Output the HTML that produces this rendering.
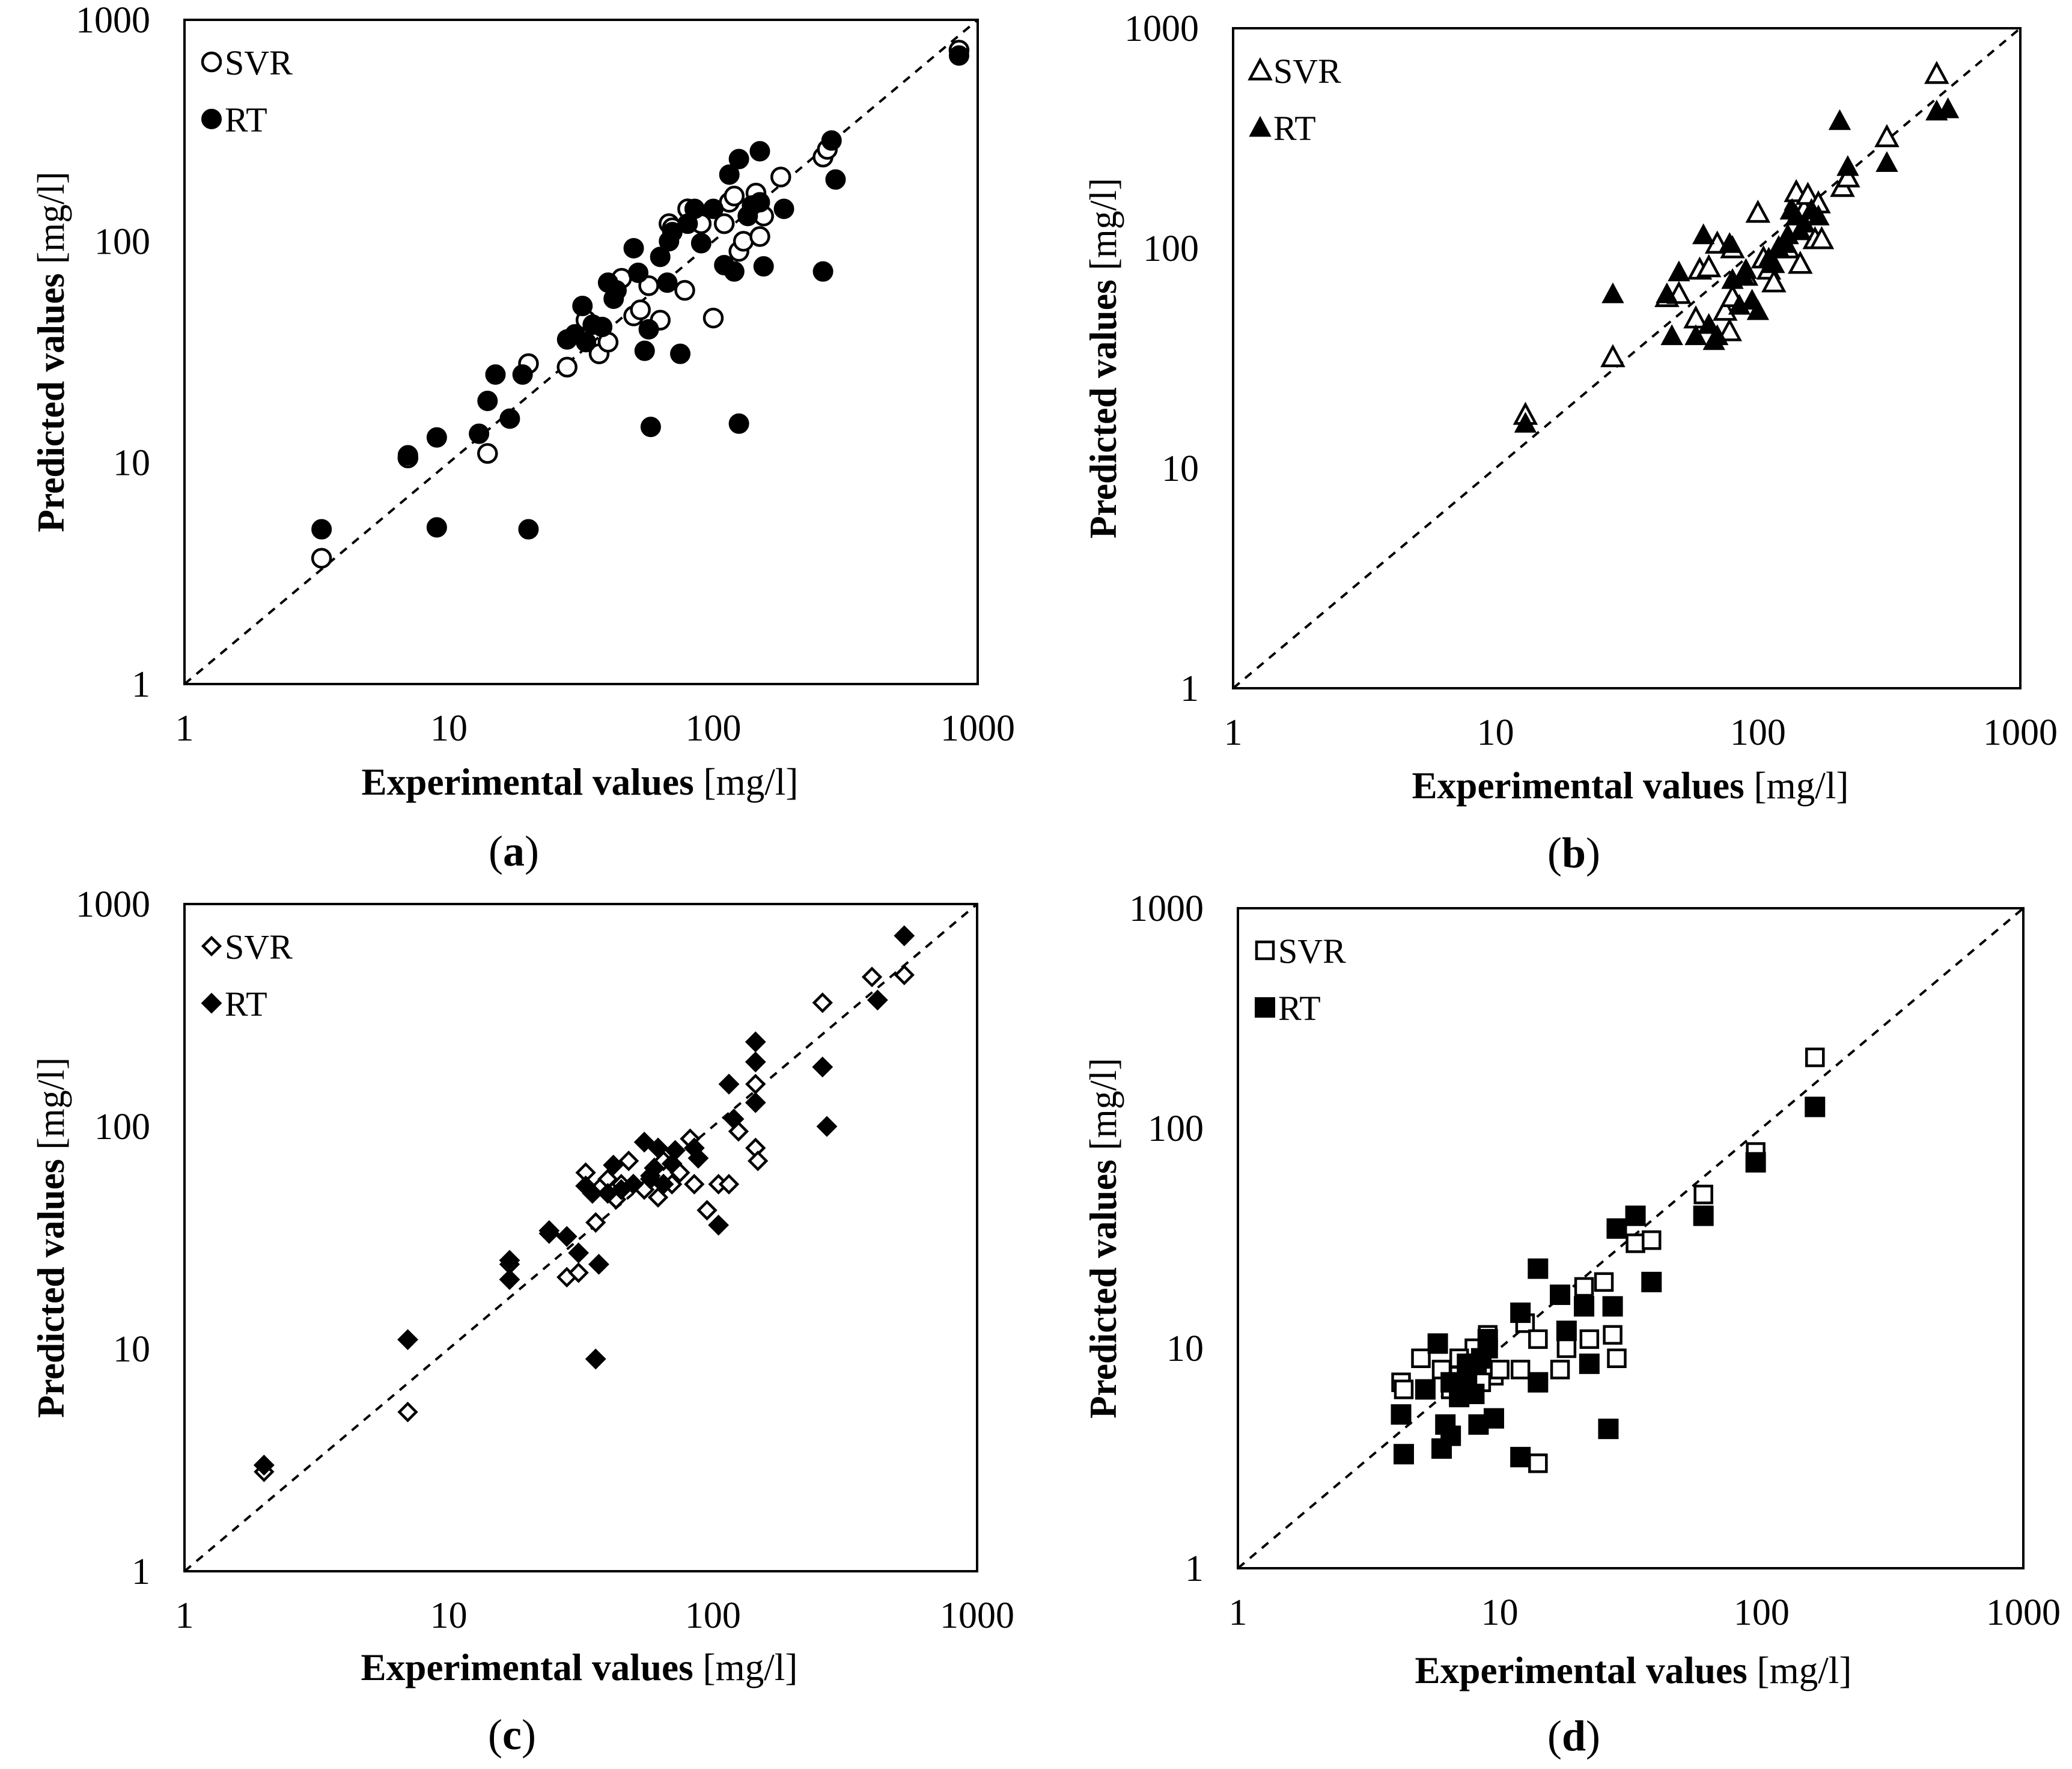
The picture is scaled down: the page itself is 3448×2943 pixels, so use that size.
<!DOCTYPE html>
<html><head><meta charset="utf-8"><style>
html,body{margin:0;padding:0;background:#fff}
svg{display:block}
text{font-family:"Liberation Serif",serif;fill:#000}
</style></head><body>
<svg id="fig" width="3448" height="2943" viewBox="0 0 3448 2943" xmlns="http://www.w3.org/2000/svg"></svg>
<script>
// Panel (a) – circles
const aSvrX=[3.3,7,14,20,28,33,37,40,43,45,50,53,57,63,68,78,85,90,100,110,115,120,125,130,145,150,155,180,260,270,850,70,80];
const aSvrY=[3.7,10.5,11,28,27,44,31,35,60,68,46,49,63,44,120,60,130,120,45,120,150,160,90,100,165,105,130,195,240,260,730,115,140];
const aRtX=[3.3,7,9,9,13,14,15,17,19,20,28,30,32,33,35,38,40,42,43,50,52,55,57,58,63,67,68,70,75,80,85,90,100,110,115,120,125,125,135,140,150,150,155,185,260,280,290,850];
const aRtY=[5,10.8,5.1,13,13.5,19,25,15.8,25,5,36,38,51,35,42,41,65,55,60,93,72,32,40,14.5,85,65,100,110,31,120,140,98,140,78,200,73,235,15,130,145,255,150,77,140,73,285,190,690];
// Panel (b) – triangles
const bSvrX=[13,28,45,50,58,60,65,70,75,78,80,80,100,105,110,120,130,135,140,140,145,150,155,165,170,175,210,220,310,480,115,90];
const bSvrY=[17.5,32,60,62,48,80,82,105,52,42,60,100,145,90,80,100,100,150,165,180,85,150,175,110,160,110,190,210,320,620,70,75];
const bRtX=[13,28,45,47,50,58,62,65,68,70,78,80,85,88,90,95,100,110,115,120,125,130,135,140,145,150,160,170,205,220,310,480,530];
const bRtY=[16,62,62,40,78,40,115,45,38,40,105,72,55,75,80,58,52,90,85,100,105,115,150,140,120,130,150,140,380,235,245,420,430];
// Panel (c) – diamonds
const cSvrX=[2,7,17,24,28,31,33,36,38,40,43,45,48,55,58,62,65,70,75,82,85,95,105,115,125,145,145,148,260,400,530];
const cSvrY=[2.8,5.2,24,33,21,22,62,37,54,58,47,55,70,52,60,48,70,55,62,88,55,42,55,55,95,155,80,70,360,470,480];
const cRtX=[2,7,17,17,24,28,31,33,35,36,37,40,42,45,50,55,58,60,62,65,70,72,85,88,105,115,120,145,145,145,260,270,420,530];
const cRtY=[3,11,25,20.5,34,32,27,54,50,9,24,50,67,52,55,85,58,65,80,55,68,78,80,72,36,155,108,240,195,128,185,100,370,720];
// Panel (d) – squares
const dSvrX=[4.2,4.3,5,6,6.5,7,7.5,8,8.5,9,9.5,10,12,12.5,14,14,17,18,21,22,25,27,28,33,38,60,95,160,8.5,7];
const dSvrY=[7,6.5,9,8,6.5,7.5,8,10,8.5,11.5,7.5,8,8,13,11,3,8,10,19,11,20,11.5,9,30,31,50,78,210,7,9];
const dRtX=[4.2,4.3,5.2,5.8,6,6.2,6.5,6.5,7,7.5,8,8.3,8.5,9,9,9.5,12,12,14,14,17,18,21,22,26,27,28,33,38,60,95,160,8,7.5];
const dRtY=[5,3.3,6.5,10.5,3.5,4.5,4,7,6,8.5,6.2,4.5,9,11,10,4.8,14.5,3.2,7,23,17.5,12,15.5,8.5,4.3,15.5,35,40,20,40,70,125,8.5,7];
const ticks=[1,10,100,1000];
const tickLabels=["1","10","100","1000"];

const NS="http://www.w3.org/2000/svg";
const svg=document.getElementById('fig');
function mk(tag,attrs,parent){const e=document.createElementNS(NS,tag);for(const k in attrs)e.setAttribute(k,attrs[k]);(parent||svg).appendChild(e);return e;}

const panels=[
 {id:'a',L:307,T:33,R:1627,B:1138,shape:'circle',sx:aSvrX,sy:aSvrY,rx:aRtX,ry:aRtY,xtX:965,xtY:1322,ytX:84,lbX:855,lbY:1440},
 {id:'b',L:2052,T:47,R:3362,B:1145,shape:'tri',sx:bSvrX,sy:bSvrY,rx:bRtX,ry:bRtY,xtX:2713,xtY:1328,ytX:1835,lbX:2619,lbY:1443},
 {id:'c',L:307,T:1504,R:1626,B:2614,shape:'diamond',sx:cSvrX,sy:cSvrY,rx:cRtX,ry:cRtY,xtX:964,xtY:2795,ytX:84,lbX:852,lbY:2910},
 {id:'d',L:2060,T:1511,R:3367,B:2609,shape:'square',sx:dSvrX,sy:dSvrY,rx:dRtX,ry:dRtY,xtX:2718,xtY:2800,ytX:1835,lbX:2619,lbY:2912}
];

function marker(g,shape,cx,cy,filled,name){
  const st=filled?{fill:'#000',stroke:'#000','stroke-width':2}:{fill:'#fff',stroke:'#000','stroke-width':4.5};
  let e;
  if(shape==='circle'){e=mk('circle',Object.assign({cx:cx,cy:cy,r:filled?16:15},st),g);}
  else if(shape==='tri'){const s=17;e=mk('polygon',Object.assign({points:`${cx},${cy-s} ${cx+s},${cy+s*0.85} ${cx-s},${cy+s*0.85}`,'stroke-linejoin':'miter'},st),g);}
  else if(shape==='diamond'){const s=filled?16:14;e=mk('polygon',Object.assign({points:`${cx},${cy-s} ${cx+s},${cy} ${cx},${cy+s} ${cx-s},${cy}`},st),g);}
  else {const s=filled?16:14;e=mk('rect',Object.assign({x:cx-s,y:cy-s,width:2*s,height:2*s},st),g);}
  
  
  return e;
}

panels.forEach(p=>{
  const g=mk('g',{});
  
  
  const xs=v=>p.L+(p.R-p.L)*Math.log10(v)/3;
  const ys=v=>p.B-(p.B-p.T)*Math.log10(v)/3;
  // diagonal
  const d=mk('line',{x1:xs(1),y1:ys(1),x2:xs(1000),y2:ys(1000),stroke:'#000','stroke-width':4,'stroke-dasharray':'14,12'},g);
  
  
  // series
  p.sx.forEach((v,i)=>marker(g,p.shape,xs(v),ys(p.sy[i]),false,'svr-point'));
  p.rx.forEach((v,i)=>marker(g,p.shape,xs(v),ys(p.ry[i]),true,'rt-point'));
  // frame
  const f=mk('rect',{x:p.L,y:p.T,width:p.R-p.L,height:p.B-p.T,fill:'none',stroke:'#000','stroke-width':4},g);
  
  
  // ticks
  ticks.forEach((t,i)=>{
    const tx=mk('text',{x:xs(t),y:p.B+94,'font-size':62,'text-anchor':'middle'},g);
    tx.textContent=tickLabels[i];
    
    
    const ty=mk('text',{x:p.L-57,y:ys(t)+21,'font-size':62,'text-anchor':'end'},g);
    ty.textContent=tickLabels[i];
    
    
  });
  // legend
  const lx=p.L+45, l1=p.T+70, l2=p.T+165;
  marker(g,p.shape,lx,l1,false,'legend-svr-marker');
  marker(g,p.shape,lx,l2,true,'legend-rt-marker');
  const t1=mk('text',{x:lx+22,y:l1+21,'font-size':58},g);t1.textContent='SVR';
  
  
  const t2=mk('text',{x:lx+22,y:l2+21,'font-size':58},g);t2.textContent='RT';
  
  
  // x title
  const xt=mk('text',{x:p.xtX,y:p.xtY,'font-size':64,'text-anchor':'middle',textLength:727,lengthAdjust:'spacingAndGlyphs'},g);
  xt.innerHTML='<tspan font-weight="bold">Experimental values</tspan> [mg/l]';
  
  
  // y title
  const cy=(p.T+p.B)/2;
  const yt=mk('text',{x:p.ytX,y:cy,'font-size':64,'text-anchor':'middle',transform:`rotate(-90 ${p.ytX} ${cy}) translate(0 22)`,textLength:600,lengthAdjust:'spacingAndGlyphs'},g);
  yt.innerHTML='<tspan font-weight="bold">Predicted values</tspan> [mg/l]';
  
  
  // panel label
  const lb=mk('text',{x:p.lbX,y:p.lbY,'font-size':72,'text-anchor':'middle'},g);
  lb.innerHTML='(<tspan font-weight="bold">'+p.id+'</tspan>)';
  
  
});
</script>
</body></html>
